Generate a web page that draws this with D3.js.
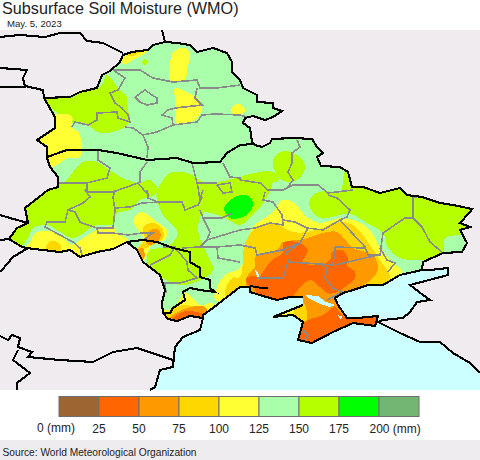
<!DOCTYPE html>
<html>
<head>
<title>Subsurface Soil Moisture (WMO)</title>
<script src="https://d3js.org/d3.v7.min.js"></script>
<style>
	html, body { margin: 0; padding: 0; background: #fff; }
	svg { display: block; }
	text { font-family: "Liberation Sans", Arial, sans-serif; fill: #222; }
	.crisp path { shape-rendering: crispEdges; }
</style>
</head>
<body>
<div id="chartContainer"></div>
<script type="text/javascript">
// legend
var legendColors = ["#9c6633", "#ff6600", "#ff9900", "#ffd700", "#ffff33", "#aaffaa", "#b5ff00", "#00ff00", "#73b573"];
var legendBreaks = [0, 25, 50, 75, 100, 125, 150, 175, 200, 225];
var legendTicks = [25, 50, 75, 100, 125, 150, 175];

// map outlines, in map grid units
var land = [[44,98],[70,97],[80,92],[97,88],[102,75],[110,71],[120,62],[123,55],[132,52],[148,50],[153,45],[165,42],[177,43],[190,45],[197,52],[213,48],[227,53],[232,62],[232,72],[240,80],[243,88],[257,95],[257,102],[273,103],[273,108],[282,111],[273,117],[265,120],[253,116],[245,118],[243,123],[250,128],[252,142],[255,145],[262,147],[270,143],[272,139],[293,138],[312,139],[317,147],[323,153],[317,157],[321,166],[340,167],[348,172],[352,187],[363,187],[380,193],[400,188],[407,195],[422,197],[440,203],[453,205],[472,209],[470,212],[460,223],[470,227],[460,230],[467,243],[462,252],[443,253],[423,262],[422,270],[400,275],[383,285],[368,285],[353,290],[343,293],[335,298],[338,305],[347,318],[357,318],[378,316],[375,326],[353,323],[333,332],[312,343],[298,340],[303,322],[293,315],[273,317],[303,305],[303,297],[290,297],[277,300],[263,296],[250,292],[250,287],[240,287],[227,297],[213,308],[203,315],[203,318],[190,316],[177,321],[168,319],[163,313],[162,303],[165,290],[160,275],[143,262],[137,250],[127,242],[113,249],[97,252],[80,257],[70,250],[60,252],[43,250],[33,249],[22,247],[9,239],[17,228],[28,223],[25,208],[48,190],[58,187],[58,177],[50,167],[47,158],[47,147],[37,140],[55,128],[55,117],[47,103]];
var sea = [[150,390],[155,387],[160,370],[173,367],[175,347],[183,337],[200,330],[203,318],[205,300],[240,280],[350,280],[422,270],[430,270],[448,268],[448,275],[410,285],[423,295],[430,300],[417,302],[410,312],[403,318],[383,320],[378,322],[400,333],[420,342],[440,342],[453,353],[470,363],[480,373],[480,390]];
var syvash = [
	[[305,295],[318,296],[326,302],[335,305],[330,307],[320,304],[310,299]],
	[[255,270],[258,272],[260,278],[257,277]],
	[[338,315],[343,317],[340,319]]
];

// moisture areas, painted from the bottom up
var limeNorth = [[44,98],[100,87],[107,75],[118,88],[127,97],[127,107],[130,120],[123,128],[100,133],[88,125],[70,122],[47,103]];
var limeWest = [[8,236],[15,222],[22,205],[48,186],[62,184],[83,162],[97,162],[112,172],[137,183],[150,180],[158,190],[155,195],[140,200],[130,210],[117,213],[113,224],[93,226],[85,232],[73,238],[60,232],[47,225],[33,228],[28,238],[20,246]];
var limeCentre = [[157,192],[170,173],[187,173],[207,183],[240,178],[262,184],[272,183],[262,205],[250,217],[240,225],[223,217],[203,213],[198,230],[205,250],[213,270],[200,280],[180,285],[163,278],[147,263],[150,250],[167,247],[178,233],[163,215],[157,200]];
var limeSpot = [[273,172],[279,180],[250,184],[240,178],[250,174]];
var limeBlob = [[273,160],[283,151],[297,155],[305,165],[302,175],[292,182],[279,178]];
var limeEast = [[309,205],[313,195],[325,191],[340,192],[345,172],[352,168],[362,178],[400,178],[485,200],[485,222],[467,234],[445,238],[443,258],[425,260],[400,258],[388,247],[383,233],[367,223],[350,214],[320,218]];
var limeDot = [[142,62],[145,59],[148,62],[145,65]];
var green = [[224,208],[232,199],[240,195],[248,196],[253,202],[250,212],[240,218],[230,218]];
var yellowAreas = [
	[[173,52],[185,48],[190,53],[187,70],[185,80],[170,80],[170,70]],
	[[175,88],[182,90],[200,100],[202,108],[195,120],[177,124],[175,100]],
	[[232,107],[240,104],[245,110],[240,116],[232,113]],
	[[120,60],[130,50],[150,47],[147,52],[133,60],[125,64]],
	[[50,116],[72,116],[72,127],[79,133],[82,150],[80,157],[68,158],[52,167],[44,160],[40,145],[30,140],[48,128]],
	[[28,245],[37,232],[57,233],[72,245],[80,240],[93,232],[113,226],[117,233],[128,240],[117,247],[100,254],[82,260],[72,256],[43,254],[23,250]],
	[[133,220],[142,212],[157,222],[167,230],[165,240],[157,242],[150,248],[143,262],[136,255],[143,237],[138,230]],
	[[160,312],[173,308],[185,293],[192,297],[200,305],[213,303],[205,318],[190,322],[170,324]],
	[[215,300],[218,285],[225,275],[240,268],[247,247],[253,227],[273,212],[282,200],[293,202],[307,217],[320,223],[343,218],[367,227],[380,247],[390,260],[402,272],[385,292],[330,300],[240,300]]
];
var goldAreas = [
	[[128,56],[138,50],[140,52],[132,56]],
	[[48,243],[55,241],[61,246],[60,254],[46,254]],
	[[143,227],[155,223],[163,230],[163,238],[153,245],[143,250],[143,260],[137,250],[145,240]],
	[[165,316],[183,305],[197,307],[207,308],[205,322],[180,326]],
	[[225,295],[232,278],[240,277],[245,243],[257,227],[273,223],[293,232],[307,232],[323,228],[337,222],[353,225],[370,245],[380,260],[390,278],[372,292],[330,302],[240,300]]
];
var orangeAreas = [
	[[148,232],[157,229],[161,235],[157,242],[148,245],[147,238]],
	[[136,252],[143,248],[144,259],[139,257]],
	[[168,320],[187,308],[205,307],[207,322],[180,326]],
	[[246,288],[248,275],[255,267],[255,257],[277,250],[283,242],[300,240],[308,238],[323,233],[337,232],[353,248],[373,255],[378,270],[368,282],[350,292],[335,300],[300,305],[262,305]],
	[[303,300],[335,298],[345,320],[310,345],[295,330]]
];
var redAreas = [
	[[255,290],[263,272],[272,260],[283,253],[283,243],[297,242],[308,250],[303,262],[320,265],[330,260],[332,252],[342,250],[348,258],[347,265],[355,272],[355,278],[345,287],[335,293],[327,293],[320,287],[310,280],[298,290],[290,299],[277,302],[262,297]],
	[[246,278],[257,277],[258,284],[249,286]],
	[[172,321],[182,312],[197,312],[205,316],[204,322],[190,324]],
	[[303,323],[323,315],[335,307],[340,313],[347,318],[357,316],[380,314],[378,328],[353,324],[333,334],[312,346],[295,342]]
];
var crimeaYellow = [[265,320],[290,310],[297,303],[297,325],[285,327]];
var crimeaGold = [[296,305],[304,303],[306,325],[296,325]];

// region lines
var greyLines = [
	[[113,70],[125,78],[118,90],[110,93],[115,103],[122,108],[128,115],[130,122],[118,118],[117,112],[97,113],[97,120],[88,125],[75,122],[72,127]],
	[[113,70],[140,70],[153,78],[173,82],[197,80],[200,88],[217,88],[240,85]],
	[[197,88],[195,98],[202,105],[175,108],[168,110],[162,115],[172,118],[173,125],[157,132],[143,135],[133,128],[125,127]],
	[[173,125],[197,122],[202,115],[215,114],[240,115],[247,117]],
	[[135,97],[145,90],[152,95],[157,98],[157,103],[147,105],[140,102],[135,97]],
	[[143,135],[148,147],[147,158]],
	[[98,150],[98,160],[110,168],[107,178],[87,183],[87,192],[85,190],[90,197],[83,203],[68,210],[75,212],[80,222],[82,223],[97,228],[113,228],[115,210],[113,197],[115,190]],
	[[147,162],[140,172],[140,183]],
	[[58,183],[87,183]],
	[[87,192],[113,192],[138,183],[148,195],[147,190]],
	[[192,163],[198,187],[200,200],[203,190]],
	[[223,163],[230,177],[240,178],[240,180]],
	[[217,185],[230,183],[232,192],[223,193],[217,185]],
	[[198,183],[217,183]],
	[[68,210],[65,222],[47,222],[45,227],[73,242],[80,248],[82,255]],
	[[97,228],[98,233],[113,233],[128,235],[142,233],[153,233],[143,240]],
	[[115,208],[130,207],[142,203],[160,202],[182,202],[185,210],[198,205],[202,197]],
	[[148,195],[148,198],[160,203]],
	[[200,210],[203,218],[222,218],[232,213]],
	[[203,218],[210,232],[207,240],[240,230],[255,228],[270,223],[283,225],[282,215],[273,202],[263,200],[265,192]],
	[[182,248],[200,247],[217,247],[240,245],[255,248],[257,255],[282,250],[300,243],[308,228]],
	[[217,247],[218,258],[240,262]],
	[[200,247],[207,240]],
	[[163,247],[175,247],[170,255],[150,265]],
	[[177,250],[187,262],[188,270],[197,278],[180,283],[165,283],[166,293]],
	[[297,140],[300,147],[292,153],[292,163],[288,172],[293,180],[288,187]],
	[[240,180],[260,183],[268,190],[283,190],[293,185],[318,185],[328,193],[353,190]],
	[[328,195],[337,198],[350,210],[347,217],[340,220],[365,247],[368,255],[380,255],[383,233],[405,218],[413,218],[413,198],[417,197]],
	[[413,218],[422,227],[430,242],[443,253]],
	[[380,248],[387,260],[395,263],[388,272]],
	[[283,220],[295,222],[307,228],[323,230],[340,220]],
	[[308,228],[300,243],[287,252],[288,262],[283,278],[258,278]],
	[[288,262],[320,264],[327,268],[325,278],[333,288],[342,292],[327,300]],
	[[335,247],[365,248]],
	[[335,247],[333,265],[320,264]],
	[[335,265],[378,255]],
	[[303,330],[308,335],[305,340]]
];
// the Crimean isthmus has no outline, so the land border is drawn in two pieces
var isthmus = land.findIndex(function(d){ return d[0] == 303 && d[1] == 305; });
var blackLines = [
	land.slice(0, isthmus + 1),
	land.slice(isthmus + 1).concat([land[0]]),
	[[47,157],[67,150],[98,150],[117,153],[147,160],[177,158],[193,163],[220,162],[227,153],[240,145],[253,144]],
	[[127,242],[143,240],[157,242],[173,248],[190,252],[190,262],[200,268],[200,277],[210,280],[210,288],[215,292],[200,290],[190,288],[183,292],[185,300],[173,308],[170,313],[163,313]],
	[[0,37],[20,35],[45,37],[60,33],[80,33],[87,41],[103,43],[123,53]],
	[[162,30],[165,42]],
	[[0,68],[27,70],[23,78],[25,87],[0,87]],
	[[25,86],[43,90],[44,98]],
	[[0,215],[10,218],[28,223]],
	[[0,240],[9,239]],
	[[28,248],[13,257],[2,270],[0,272]],
	[[0,336],[8,340],[12,335],[20,338],[18,347],[32,352],[28,357],[60,360],[93,362],[113,352],[137,348],[173,360]],
	[[18,350],[13,360],[30,373],[17,383],[17,390]],
	[[203,318],[200,330],[183,337],[175,347],[173,367],[160,370],[155,387],[150,390]],
	[[422,270],[430,270],[448,268],[448,275],[410,285],[423,295],[430,300],[417,302],[410,312],[403,318],[383,320],[378,322],[400,333],[420,342],[440,342],[453,353],[470,363],[480,373]],
	[[250,286],[262,288],[268,288]]
];

var width = 480, height = 460;
var svg = d3.select("#chartContainer").append("svg").attr("width", width).attr("height", height);

// the map grid is drawn one to one, the legend runs on its own scale
var mapX = d3.scaleLinear().domain([0, 480]).range([0, 480]);
var mapY = d3.scaleLinear().domain([30, 390]).range([30, 390]);
var legendX = d3.scaleLinear().domain([0, 225]).range([59, 419]);

var sharpLine = d3.line().x(function(d){ return mapX(d[0]); }).y(function(d){ return mapY(d[1]); });
var roundArea = d3.line().x(function(d){ return mapX(d[0]); }).y(function(d){ return mapY(d[1]); })
	.curve(d3.curveCatmullRomClosed.alpha(0.5));

svg.append("defs").append("clipPath").attr("id", "landClip")
	.append("path").attr("d", sharpLine(land) + "Z");

svg.append("rect").attr("x", mapX(0)).attr("y", mapY(30)).attr("width", mapX(480) - mapX(0)).attr("height", mapY(390) - mapY(30))
	.attr("fill", "#efebef");
svg.append("path").attr("d", sharpLine(sea) + "Z").attr("fill", "#ccffff");
svg.append("path").attr("d", sharpLine(land) + "Z").attr("fill", legendColors[5]);

var fills = svg.append("g").attr("class", "crisp").attr("clip-path", "url(#landClip)");
function paint(areas, color){
	fills.selectAll(null).data(areas).enter().append("path")
		.attr("d", roundArea).attr("fill", color);
}
paint([limeNorth, limeWest, limeCentre, limeSpot, limeBlob, limeEast, limeDot], legendColors[6]);
paint([green], legendColors[7]);
paint(yellowAreas, legendColors[4]);
paint(goldAreas, legendColors[3]);
paint(orangeAreas, legendColors[2]);
paint([crimeaYellow], legendColors[4]);
paint([crimeaGold], legendColors[3]);
paint(redAreas, legendColors[1]);
fills.selectAll(null).data(syvash).enter().append("path")
	.attr("d", function(d){ return sharpLine(d) + "Z"; }).attr("fill", "#ccffff");

svg.append("g").attr("class", "crisp").selectAll("path").data(greyLines).enter().append("path")
	.attr("d", sharpLine).attr("fill", "none").attr("stroke", "#8a8a8a").attr("stroke-width", 1.6);
svg.append("g").attr("class", "crisp").selectAll("path").data(blackLines).enter().append("path")
	.attr("d", sharpLine).attr("fill", "none").attr("stroke", "#000").attr("stroke-width", 2.1);

// legend bar
svg.append("g").selectAll("rect").data(legendColors).enter().append("rect")
	.attr("x", function(d, i){ return legendX(legendBreaks[i]); })
	.attr("y", 396.5)
	.attr("width", function(d, i){ return legendX(legendBreaks[i + 1]) - legendX(legendBreaks[i]); })
	.attr("height", 20)
	.attr("fill", function(d){ return d; })
	.attr("stroke", "#6e6e6e").attr("stroke-width", 1);

svg.append("g").selectAll("text").data(legendTicks).enter().append("text")
	.attr("x", function(d){ return legendX(d); })
	.attr("y", 433).attr("text-anchor", "middle").style("font-size", "12px")
	.text(function(d){ return d; });
svg.append("text").attr("x", legendX(0) - 3).attr("y", 432).attr("text-anchor", "middle").style("font-size", "12px").text("0 (mm)");
svg.append("text").attr("x", legendX(200) - 9.5).attr("y", 433).attr("text-anchor", "start").style("font-size", "12px").text("200 (mm)");

// footer and titles
svg.append("rect").attr("x", 0).attr("y", 440).attr("width", width).attr("height", 20).attr("fill", "#efecf0");
svg.append("text").attr("x", 2.5).attr("y", 456).style("font-size", "10.2px").text("Source: World Meteorological Organization");
svg.append("text").attr("x", 2).attr("y", 14).style("font-size", "16.2px").text("Subsurface Soil Moisture (WMO)");
svg.append("text").attr("x", 7).attr("y", 27).style("font-size", "9.6px").text("May. 5, 2023");
</script>
</body>
</html>
